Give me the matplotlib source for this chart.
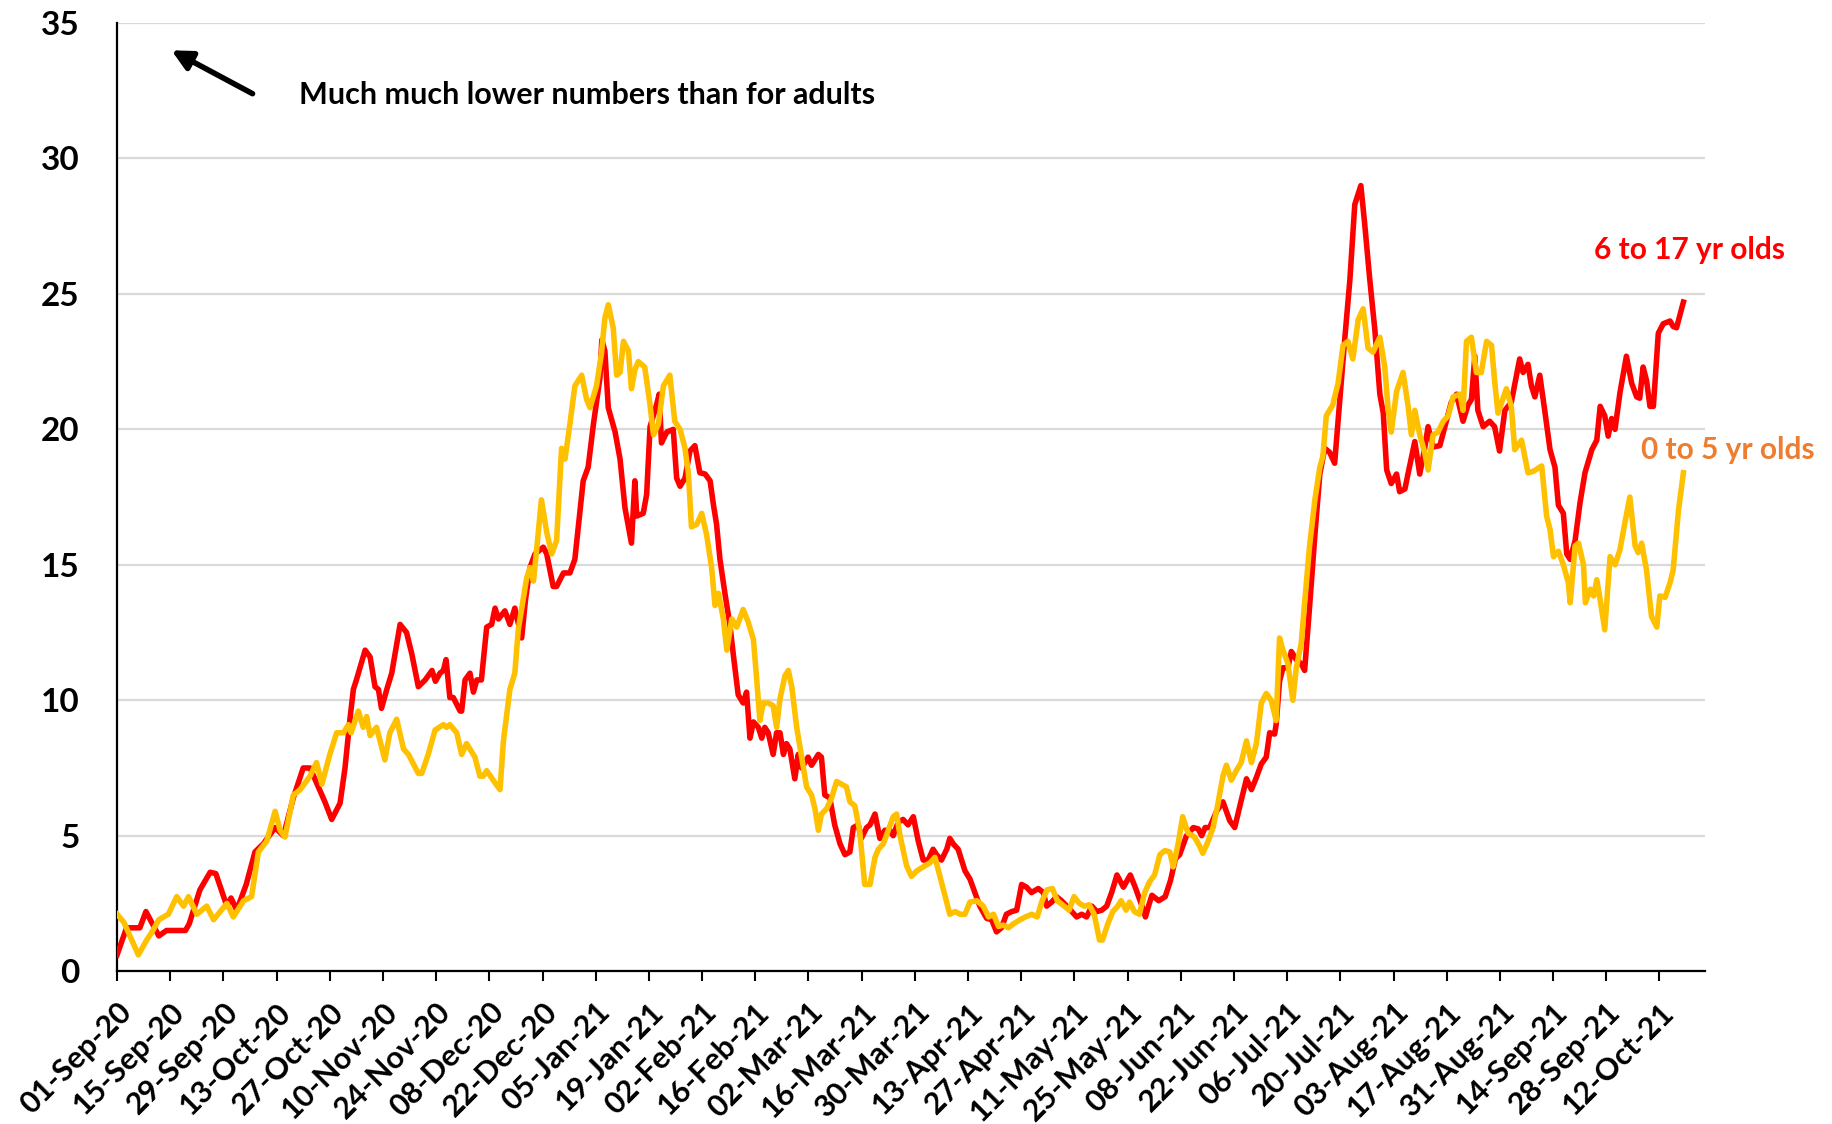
import numpy as np
import pandas as pd
import matplotlib
matplotlib.use("Agg")
import matplotlib.pyplot as plt
import matplotlib.dates as mdates

plt.rcParams['font.family'] = ['Lato', 'DejaVu Sans']

# data: days after 01-Sep-2020 and value
start = pd.Timestamp("2020-09-01")

red_days = [0, 2.5, 6, 7.6, 11, 13, 18, 19, 21.8, 24.5, 26, 28.9, 30, 31.5, 34, 36.3, 38.5, 41.6, 43.8, 46.4, 49, 50.8, 54.7,
            56.5, 58.7, 60, 61.3, 62.2, 63, 65.3, 66.6, 67.9, 68.8, 69.6, 71, 72.3, 74.5, 76.2, 77.6, 79.3, 81.1, 82.9, 83.8,
            85, 85.9, 86.6, 87.6, 88.5, 90.3, 90.7, 91.6, 92.9, 93.8, 94.7, 95.9, 97.3, 98.6, 99.5, 100.4, 102.1, 103.4,
            104.7, 106.5, 107.5, 108.7, 110, 112.2, 113.1, 114.8, 115.7, 117.5, 119.2, 120.5, 121.4, 122.7, 124, 125.4,
            127.1, 127.6, 128.4, 129.3, 131.1, 132.4, 133.7, 134.6, 135.4, 136.3, 136.8, 138.5, 139.4, 140.3, 142, 142.7,
            143.3, 144.7, 146.4, 147.3, 148.2, 149.5, 150.8, 152.1, 153.4, 154.8, 156.1, 157, 157.8, 158.7, 160, 161.3,
            162.2, 163.5, 164.8, 165.7, 166.6, 167.5, 168.8, 169.7, 170.5, 171.4, 172.7, 173.6, 174.5, 175.4, 176.2,
            177.1, 178.4, 179.3, 180.2, 181.9, 182.8, 184.6, 185.4, 186.3, 187.6, 188.9, 190.3, 191.6, 192.9, 193.8,
            195.1, 195.9, 197.3, 198.2, 199.5, 200.8, 202.1, 203.4, 204.3, 205.6, 206.9, 208.2, 209.6, 210.9, 212.2,
            213.5, 214.8, 215.7, 217, 218.4, 219.2, 220.1, 221.4, 223.2, 224.5, 225.8, 227.1, 228.9, 230.2, 231.5, 232.8,
            234.1, 235.5, 236.8, 238.1, 239.4, 240.7, 242.5, 243.8, 244.7, 246, 247.3, 248.6, 250, 251.3, 252.6, 253.9,
            255.2, 256.6, 257.9, 259.2, 260.5, 261.8, 263.2, 264.9, 266.7, 268, 269.8, 270.7, 271.5, 272.4, 274.2, 275.9,
            277.3, 278.6, 279.7, 281.5, 283.3, 284.6, 285.5, 286.4, 287.6, 289.4, 291.1, 292.9, 294.2, 295.9, 297.3,
            298.6, 299.9, 301.2, 302.5, 303.4, 304.7, 305.1, 306, 306.9, 308.2, 309.1, 310.4, 311.7, 312.6, 313.9, 315.3,
            316.6, 317.9, 319.2, 320.5, 321.8, 323.2, 324.5, 325.8, 327.4, 328.4, 329.7, 331.1, 332.4, 333.3, 334.2,
            335.4, 336.8, 337.6, 339, 339.8, 341.6, 342.9, 344.2, 345.1, 346.4, 348.2, 349.9, 351.2, 352.6, 354.3, 355.6,
            356.5, 357.4, 358.2, 359.6, 361.3, 362.6, 363.9, 365.3, 367, 369.2, 370.1, 371.4, 372.3, 373.2, 374.5, 375.8,
            377.2, 378.5, 379.4, 380.7, 381.6, 382.5, 383.8, 385.1, 386.4, 388.2, 389.5, 390.4, 391.6, 392.5, 393.4,
            394.3, 395.6, 397.3, 398.7, 400, 400.8, 401.7, 402.6, 403.5, 404.4, 405.7, 407, 408.8, 409.6, 410.5, 412.3]
red_vals = [0.6, 1.6, 1.6, 2.2, 1.3, 1.5, 1.5, 1.75, 3.0, 3.65, 3.6, 2.4, 2.7, 2.25, 3.2, 4.4, 4.7, 5.3, 5.0, 6.4, 7.5, 7.5, 6.25,
            5.6, 6.2, 7.5, 9.3, 10.4, 10.75, 11.85, 11.6, 10.5, 10.4, 9.7, 10.4, 11.0, 12.8, 12.5, 11.7, 10.5, 10.75, 11.1, 10.7,
            11.0, 11.1, 11.5, 10.1, 10.1, 9.6, 9.6, 10.75, 11.0, 10.3, 10.75, 10.75, 12.7, 12.8, 13.4, 13.0, 13.3, 12.8,
            13.4, 12.3, 13.7, 14.9, 15.4, 15.65, 15.4, 14.2, 14.2, 14.7, 14.7, 15.2, 16.4, 18.1, 18.6, 20.2,
            21.9, 23.3, 22.9, 20.8, 19.9, 18.9, 17.1, 16.4, 15.8, 18.1, 16.8, 16.9, 17.6, 20.1, 20.9, 21.3,
            19.5, 19.9, 20.0, 18.2, 17.9, 18.2, 19.2, 19.4, 18.4, 18.35, 18.1, 17.2, 16.5, 15.2, 13.95, 12.8,
            11.7, 10.2, 9.9, 10.3, 8.6, 9.2, 9.0, 8.6, 9.0, 8.8, 8.0, 8.8, 8.8, 8.0, 8.4,
            8.2, 7.1, 8.0, 7.5, 7.9, 7.6, 8.0, 7.9, 6.5, 6.4, 5.4, 4.7, 4.3, 4.4, 5.3,
            5.4, 4.9, 5.3, 5.4, 5.8, 4.9, 5.2, 5.2, 5.0, 5.5, 5.6, 5.4, 5.7, 4.8, 4.1,
            4.1, 4.5, 4.3, 4.1, 4.5, 4.9, 4.7, 4.5, 3.7, 3.4, 2.9, 2.4, 1.95, 1.9, 1.45, 1.6,
            2.1, 2.2, 2.25, 3.2, 3.1, 2.9, 3.05, 2.9, 2.4, 2.55, 2.75, 2.6, 2.4, 2.2, 2.0, 2.1,
            2.0, 2.4, 2.2, 2.25, 2.4, 2.9, 3.55, 3.1, 3.55, 3.1, 2.4, 2.0, 2.4, 2.8, 2.6, 2.75,
            3.35, 4.15, 4.3, 5.0, 5.3, 5.25, 5.0, 5.3, 5.3, 5.9, 6.25, 5.55, 5.3, 6.3, 7.1,
            6.7, 7.15, 7.65, 7.9, 8.8, 8.75, 9.1, 10.7, 11.2, 11.2, 11.8, 11.5, 11.35, 11.1, 13.45, 16.1,
            18.35, 19.3, 19.15, 18.75, 21.0, 23.4, 25.5, 28.3, 29.0, 27.6, 25.6, 23.65, 21.3, 20.6, 18.5,
            18.0, 18.35, 17.7, 17.8, 18.35, 19.55, 18.35, 19.3, 20.1, 19.35, 19.4, 20.3, 21.0, 21.3, 20.3, 20.9,
            21.1, 22.7, 20.7, 20.1, 20.3, 20.1, 19.2, 20.7, 21.0, 22.6, 22.1, 22.4, 21.6, 21.2, 22.0, 20.7,
            19.25, 18.6, 17.2, 16.9, 15.4, 15.2, 15.9, 17.3, 18.4, 19.25, 19.6, 20.85, 20.5, 19.75, 20.4,
            20.0, 21.35, 22.7, 21.7, 21.2, 21.15, 22.3, 21.8, 20.85, 20.85, 23.55, 23.9, 24.0, 23.8, 23.75, 24.7]

yellow_days = [0, 1.8, 5.6, 7.8, 9, 11, 13.5, 15.7, 17.5, 18.8, 21, 23.6, 25.4, 28.9, 30.6, 33.3, 35.4, 37.2, 39.4, 41.6,
               42.9, 44.2, 46.4, 48.2, 50.8, 52.5, 53.9, 56, 57.8, 59.6, 60.9, 61.6, 63.5, 64.8, 65.7, 66.6, 68.3, 70.5,
               71.8, 73.6, 75.4, 76.7, 79.3, 80.2, 81.9, 83.7, 85.9, 86.7, 87.6, 89.4, 90.7, 92, 94.2, 95.5, 96.4, 97.3,
               99, 100.8, 101.7, 103.4, 104.7, 105.6, 107.8, 108.7, 109.6, 110.4, 111.7, 113.1, 114.4, 115.7, 117, 117.9,
               119.2, 120.5, 122.3, 123.6, 124.5, 126.2, 127.5, 128.4, 129.3, 130.6, 131.5, 132.4, 133.3, 134.6, 135.4,
               136.3, 137.2, 138.9, 140.3, 141.2, 142.5, 143.8, 145.5, 146.8, 148.2, 149.5, 150.4, 151.2, 152.6, 153.9,
               155.2, 156.5, 157.4, 158.3, 159.6, 160.5, 161.8, 163.1, 164.8, 166.1, 167.5, 168.3, 169.2, 170.1, 171.4,
               172.7, 173.6, 174.5, 175.8, 176.7, 177.6, 178.9, 180.2, 181.5, 182.8, 183.7, 184.6, 185.4, 186.8, 188.1,
               189.4, 190.7, 192, 192.9, 194.2, 195.5, 196.8, 198.2, 199.5, 200.4, 201.7, 203, 204.3, 205.2, 206.1, 207.8,
               209.1, 210.5, 212.2, 214, 215.3, 216.6, 217.9, 219.2, 220.6, 221.9, 223.2, 224.5, 226.3, 228, 229.4, 230.7,
               232, 233.3, 234.6, 236, 237.7, 239.1, 240.8, 242.2, 243.5, 244.8, 246.2, 247.5, 249.3, 250.6, 251.9, 253.3,
               254.6, 255.9, 257.2, 258.6, 259.4, 260.8, 262.1, 263.4, 264.3, 265.6, 266.5, 267.8, 269.1, 270.5, 271.8,
               273.1, 274.5, 275.8, 277.1, 278, 279.3, 280.5, 281.9, 283.6, 285, 285.8, 287.2, 288.5, 289.8, 291.1, 292,
               293.3, 294.6, 295.9, 297.3, 298.6, 299.9, 301.2, 302.5, 303.8, 305.1, 306, 306.9, 308.2, 309.5, 310.4,
               311.7, 312.6, 313.9, 315.3, 316.6, 317.4, 318.3, 320, 321.4, 322.7, 324, 325.3, 326.7, 328, 329.3, 330.6,
               332.4, 333.7, 334.6, 335.4, 336.8, 338.5, 339.8, 340.7, 341.6, 342.9, 344.2, 345.1, 346.4, 347.7, 349.1,
               350.4, 351.7, 353.5, 354.3, 355.2, 356.5, 357.8, 359.1, 360.5, 361.8, 362.6, 363.5, 365.7, 367, 367.9,
               369.7, 371.4, 372.8, 375, 376.3, 377.2, 378.1, 379.4, 380.7, 382, 382.5, 383.8, 384.7, 386, 386.5, 387.8,
               388.7, 389.5, 390.4, 391.6, 393, 394.3, 395.6, 396.9, 398.2, 399.6, 400.4, 401.3, 402.6, 403.9, 405.3,
               406.1, 407.5, 408.8, 409.6, 411, 412.3]
yellow_vals = [2.1, 1.8, 0.6, 1.15, 1.4, 1.9, 2.1, 2.75, 2.4, 2.75, 2.1, 2.4, 1.9, 2.5, 2.0, 2.6, 2.75, 4.4, 4.8, 5.9,
               5.2, 4.95, 6.5, 6.7, 7.2, 7.7, 6.9, 8.0, 8.8, 8.8, 9.1, 8.8, 9.6, 9.0, 9.4, 8.7, 9.0, 7.8,
               8.8, 9.3, 8.2, 8.0, 7.3, 7.3, 8.0, 8.9, 9.1, 9.0, 9.1, 8.8, 8.0, 8.4, 7.9, 7.2, 7.2, 7.4,
               7.05, 6.7, 8.5, 10.4, 11.0, 12.6, 14.5, 14.9, 14.4, 15.5, 17.4, 16.2, 15.4, 15.9, 19.3, 18.9,
               20.2, 21.6, 22.0, 21.1, 20.8, 21.6, 22.8, 24.1, 24.6, 23.75, 22.0, 22.1, 23.25, 22.9, 21.5,
               22.2, 22.5, 22.3, 20.9, 19.8, 20.2, 21.6, 22.0, 20.3, 20.0, 19.3, 18.35, 16.4, 16.5, 16.9,
               16.1, 14.9, 13.5, 13.95, 13.0, 11.85, 13.0, 12.7, 13.35, 12.9, 12.25, 10.9, 9.25, 9.9, 9.9,
               9.8, 9.0, 10.05, 10.9, 11.1, 10.5, 9.0, 7.9, 6.8, 6.5, 6.0, 5.2, 5.8, 6.0, 6.4,
               7.0, 6.9, 6.8, 6.25, 6.1, 5.15, 3.2, 3.2, 4.2, 4.5, 4.7, 5.2, 5.7, 5.8, 5.0, 3.9,
               3.5, 3.7, 3.85, 4.0, 4.2, 3.5, 2.8, 2.1, 2.2, 2.1, 2.1, 2.55, 2.6, 2.4, 2.0, 2.1,
               1.65, 1.7, 1.6, 1.75, 1.9, 2.0, 2.1, 2.0, 2.6, 3.0, 3.05, 2.6, 2.4, 2.25, 2.75, 2.5,
               2.4, 2.45, 2.1, 1.15, 1.15, 1.75, 2.2, 2.4, 2.6, 2.25, 2.55, 2.2, 2.1, 2.9, 3.3,
               3.55, 4.3, 4.45, 4.4, 3.85, 4.7, 5.7, 5.1, 4.95, 4.6, 4.35, 4.8, 5.3, 6.2, 7.2, 7.6,
               7.05, 7.4, 7.7, 8.5, 7.7, 8.4, 9.9, 10.25, 10.0, 9.25, 12.3, 11.85, 11.35, 10.0, 11.2,
               12.1, 13.6, 15.7, 17.4, 18.6, 19.0, 20.5, 20.9, 21.7, 23.1, 23.25, 22.6, 24.05, 24.45, 23.0, 22.85,
               23.4, 22.3, 20.7, 19.9, 21.4, 22.1, 20.9, 19.8, 20.7, 19.8, 19.15, 18.5, 19.8, 19.9, 20.3,
               20.5, 21.2, 21.3, 20.7, 23.25, 23.4, 22.1, 22.1, 23.25, 23.1, 21.8, 20.6, 21.5, 20.85, 19.25,
               19.6, 18.4, 18.45, 18.65, 16.8, 16.3, 15.3, 15.5, 15.0, 14.35, 13.6, 15.7, 15.8, 15.0, 13.6, 14.1,
               13.85, 14.45, 13.7, 12.6, 15.3, 15.0, 15.55, 16.55, 17.5, 15.7, 15.45, 15.8, 14.8, 13.1, 12.7,
               13.85, 13.8, 14.35, 14.8, 17.0, 18.4]

tick_dates = pd.date_range("2020-09-01", "2021-10-12", freq="14D")
y_ticks = [0, 5, 10, 15, 20, 25, 30, 35]

red_x = start + pd.to_timedelta(red_days, unit="D")
yellow_x = start + pd.to_timedelta(yellow_days, unit="D")

fig = plt.figure(figsize=(18.32, 11.24), dpi=100)
ax = fig.add_axes([0.0639, 0.136, 0.8668, 0.8435])

ax.plot(red_x, red_vals, color="#FF0000", lw=4.0, solid_joinstyle="round", zorder=3)
ax.plot(yellow_x, yellow_vals, color="#FFC000", lw=4.0, solid_joinstyle="round", zorder=4)

ax.set_ylim(0, 35)
ax.set_yticks(y_ticks)
ax.set_xlim(start, start + pd.Timedelta(days=418))
ax.set_xticks(tick_dates)
ax.xaxis.set_major_formatter(mdates.DateFormatter("%d-%b-%y"))

ax.grid(axis="y", color="#D9D9D9", lw=1.6, zorder=0)
ax.set_axisbelow(True)
for s in ["top", "right"]:
    ax.spines[s].set_visible(False)
for s in ["left", "bottom"]:
    ax.spines[s].set_color("black")
    ax.spines[s].set_linewidth(1.6)

ax.tick_params(axis="y", length=0, pad=27, labelsize=24)
ax.tick_params(axis="x", length=7, width=1.5, direction="out", pad=12, labelsize=22)
for lab in ax.get_yticklabels():
    lab.set_fontweight("bold")
for lab in ax.get_xticklabels():
    lab.set_fontweight("bold")
    lab.set_rotation(45)
    lab.set_ha("right")
    lab.set_va("top")
    lab.set_rotation_mode("anchor")

# annotation arrow and note
ax.annotate("", xy=(169 / 1832, 1 - 49 / 1124), xytext=(255 / 1832, 1 - 95 / 1124),
            xycoords="figure fraction", textcoords="figure fraction",
            arrowprops=dict(arrowstyle="-|>", lw=4, color="black", mutation_scale=30))
fig.text(299 / 1832, 1 - 95 / 1124, "Much much lower numbers than for adults",
         ha="left", va="center", fontsize=22, fontweight="bold")

fig.text(1689 / 1832, 1 - 250 / 1124, "6 to 17 yr olds", color="#FF0000",
         ha="center", va="center", fontsize=21.5, fontweight="bold")
fig.text(1728 / 1832, 1 - 450 / 1124, "0 to 5 yr olds", color="#ED7D31",
         ha="center", va="center", fontsize=21.5, fontweight="bold")

fig.savefig("out.png", dpi=100)
